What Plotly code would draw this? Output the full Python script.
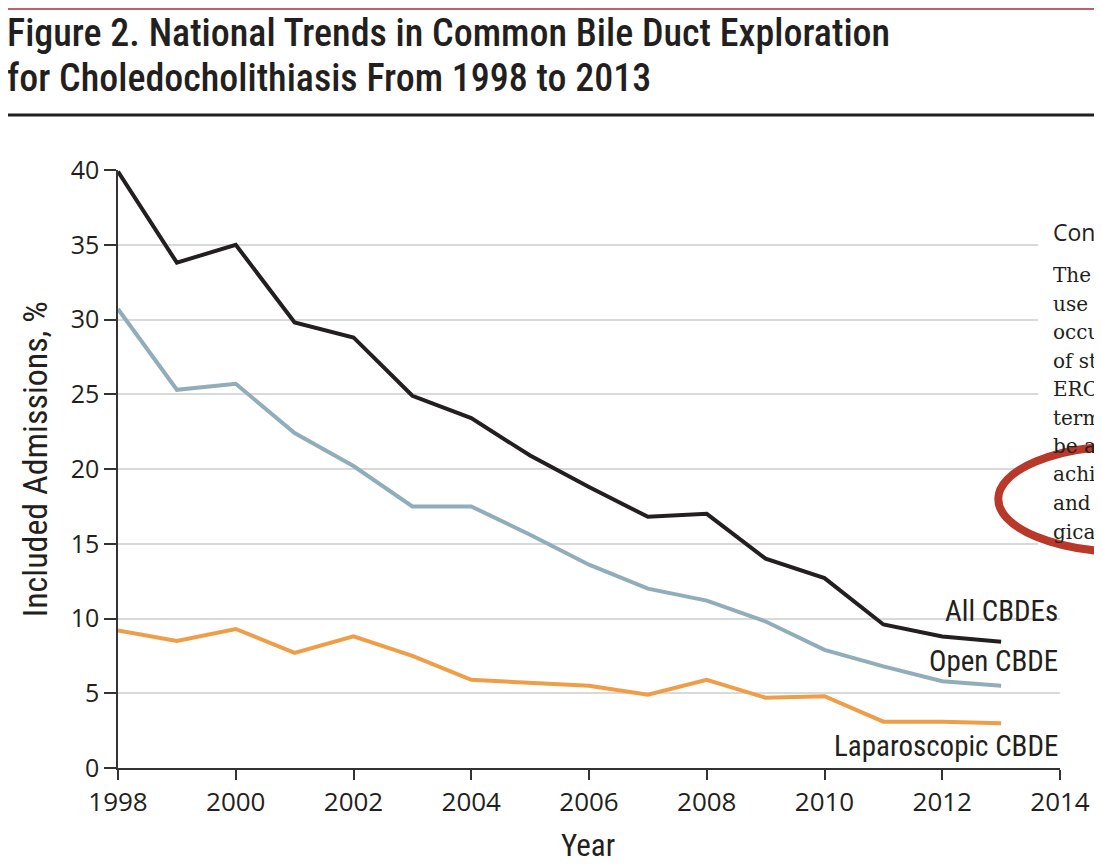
import plotly.graph_objects as go

# values (% of included admissions)
years = list(range(1998, 2014))
all_cbde = [39.9, 33.8, 35.0, 29.8, 28.8, 24.9, 23.4, 20.9, 18.8, 16.8, 17.0, 14.0, 12.7, 9.6, 8.8, 8.45]
open_cbde = [30.7, 25.3, 25.7, 22.4, 20.2, 17.5, 17.5, 15.6, 13.6, 12.0, 11.2, 9.8, 7.9, 6.8, 5.8, 5.5]
lap_cbde = [9.2, 8.5, 9.3, 7.7, 8.8, 7.5, 5.9, 5.7, 5.5, 4.9, 5.9, 4.7, 4.8, 3.1, 3.1, 3.0]

series_names = ["All CBDEs", "Open CBDE", "Laparoscopic CBDE"]
label_y = [10.5, 7.15, 1.45]

y_ticks = [0, 5, 10, 15, 20, 25, 30, 35, 40]
x_ticks = list(range(1998, 2015, 2))

sidebar_head = "Conc"
sidebar_lines = ["The r", "use o", "occur", "of sta", "ERCP", "termi",
                 "be a", "achie", "and la", "gical"]

COND = "Liberation Sans Narrow, Roboto Condensed, Roboto, sans-serif"
TICKF = "Open Sans, DejaVu Sans, sans-serif"
INK = "#231f20"
COLORS = [INK, "#92adba", "#f09d48"]

# the page body adds an 8px margin, so the figure is drawn 8px smaller
OFF = 8
W, H = 1102 - OFF, 868 - OFF
L, R, T, B = 118 - OFF, 38, 170 - OFF, 100
PW, PH = W - L - R, H - T - B


# helpers: reference pixel position -> paper coordinates
def px(x):
    return (x - OFF - L) / PW


def py(y):
    return (H - B - (y - OFF)) / PH


fig = go.Figure()
for name, vals, col in zip(series_names, [all_cbde, open_cbde, lap_cbde], COLORS):
    fig.add_trace(go.Scatter(x=years, y=vals, mode="lines", name=name,
                             line=dict(color=col, width=4), showlegend=False))

ann = []
for name, yv in zip(series_names, label_y):
    ann.append(dict(x=2014, y=yv, xref="x", yref="y", text=name, showarrow=False,
                    xanchor="right", yanchor="middle",
                    font=dict(family=COND, size=29, color=INK)))

ann += [
    dict(x=px(5), y=py(33), xref="paper", yref="paper", xanchor="left", yanchor="middle",
         text="Figure 2. National Trends in Common Bile Duct Exploration", showarrow=False,
         font=dict(family=COND, size=38, color=INK, weight=500)),
    dict(x=px(5), y=py(78), xref="paper", yref="paper", xanchor="left", yanchor="middle",
         text="for Choledocholithiasis From 1998 to 2013", showarrow=False,
         font=dict(family=COND, size=38, color=INK, weight=500)),
    dict(x=px(35), y=py(459), xref="paper", yref="paper", xanchor="center", yanchor="middle",
         textangle=-90, text="Included Admissions, %", showarrow=False,
         font=dict(family=COND, size=34, color=INK)),
    dict(x=px(590), y=py(845), xref="paper", yref="paper", xanchor="center", yanchor="middle",
         text="Year", showarrow=False,
         font=dict(family=COND, size=31, color=INK)),
    dict(x=px(1055), y=py(232), xref="paper", yref="paper", xanchor="left", yanchor="middle",
         text=sidebar_head, showarrow=False,
         font=dict(family=TICKF, size=23, color=INK)),
]
for i, t in enumerate(sidebar_lines):
    ann.append(dict(x=px(1055), y=py(275 + 28.5 * i), xref="paper", yref="paper",
                    xanchor="left", yanchor="middle", text=t, showarrow=False,
                    font=dict(family="DejaVu Serif, Liberation Serif, serif", size=20,
                              color=INK)))

shapes = [
    # top coloured rule (as high as the page allows) and heavy rule under the title
    dict(type="line", xref="paper", yref="paper", x0=px(0), x1=px(1110),
         y0=py(OFF + 1), y1=py(OFF + 1), line=dict(color="#c0606c", width=2)),
    dict(type="line", xref="paper", yref="paper", x0=px(5), x1=px(1110), y0=py(115), y1=py(115),
         line=dict(color=INK, width=3)),
    # sidebar panel masking the gridlines
    dict(type="rect", xref="paper", yref="paper", x0=px(1042), x1=px(1110),
         y0=py(560), y1=py(215), fillcolor="white", line=dict(width=0), layer="above"),
    # hand drawn red ellipse
    dict(type="circle", xref="paper", yref="paper", x0=px(1002), x1=px(1260),
         y0=py(552), y1=py(446), fillcolor="white",
         line=dict(color="#b8382a", width=8), layer="above"),
]

fig.update_layout(
    width=W, height=H,
    margin=dict(l=L, r=R, t=T, b=B),
    paper_bgcolor="white", plot_bgcolor="white",
    annotations=ann, shapes=shapes,
    xaxis=dict(range=[1998, 2014], tickvals=x_ticks, showgrid=False, zeroline=False,
               showline=True, linecolor="#333333", linewidth=1.5,
               ticks="outside", ticklen=10, tickwidth=1.5, tickcolor="#333333",
               tickfont=dict(family=TICKF, size=26, color=INK)),
    yaxis=dict(range=[0, 40], tickvals=y_ticks, showgrid=True, gridcolor="#d9d9d9",
               gridwidth=2, zeroline=False,
               showline=True, linecolor="#333333", linewidth=1.5,
               ticks="outside", ticklen=12, tickwidth=1.5, tickcolor="#333333",
               tickfont=dict(family=TICKF, size=25, color=INK)),
)

fig.write_html("out.html")
